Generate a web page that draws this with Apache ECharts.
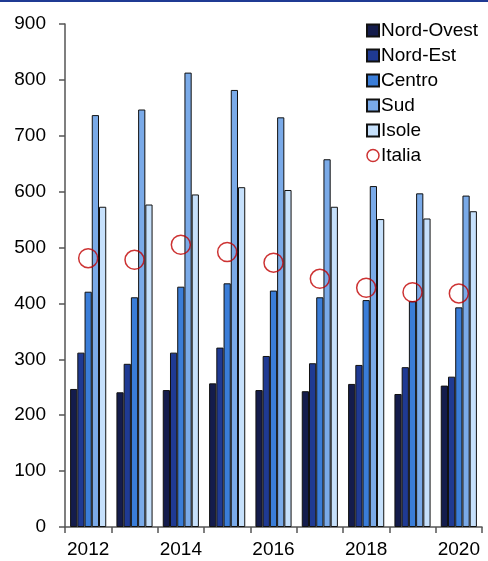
<!DOCTYPE html>
<html style="height: 100%">
<head>
<meta charset="utf-8">
<script src="https://cdn.jsdelivr.net/npm/echarts@6/dist/echarts.min.js"></script>
</head>
<body style="height: 100%; margin: 0;">
<div id="container" style="width: 488px; height: 561px;"></div>
<script type="text/javascript">
// dati
var anni = ['2012', '2013', '2014', '2015', '2016', '2017', '2018', '2019', '2020'];
var nordOvest = [247, 241, 245, 257, 245, 243, 256, 238, 253];
var nordEst   = [312, 292, 312, 321, 306, 293, 290, 286, 269];
var centro    = [421, 411, 430, 436, 423, 411, 406, 404, 393];
var sud       = [737, 747, 813, 782, 733, 658, 610, 597, 593];
var isole     = [573, 577, 595, 608, 603, 573, 551, 552, 565];
var italia    = [481, 478, 505, 492, 473, 444, 428, 420, 418];

var colori = ['#141c4c', '#1f3a93', '#3a7dd8', '#7aaae8', '#c6e0fb'];
var font = 'Liberation Sans';

function barra(nome, dati, col) {
    return {
        name: nome,
        type: 'bar',
        data: dati,
        barGap: '0%',
        barCategoryGap: '22%',
        itemStyle: { color: col, borderColor: '#111', borderWidth: 1 }
    };
}

var chart = echarts.init(document.getElementById('container'));
var option = {
    animation: false,
    textStyle: { fontFamily: font },
    graphic: [{
        type: 'rect',
        shape: { x: 0, y: 0, width: 488, height: 2 },
        style: { fill: '#1f3a93' }
    }],
    grid: { left: 65, right: 6, top: 24, bottom: 34 },
    legend: {
        orient: 'vertical',
        left: 361,
        top: 16,
        itemWidth: 12,
        itemHeight: 12,
        itemGap: 6,
        textStyle: { fontFamily: font, fontSize: 19, lineHeight: 19, color: '#000', padding: [0, 0, 0, -3] },
        data: [
            { name: 'Nord-Ovest', icon: 'rect' },
            { name: 'Nord-Est', icon: 'rect' },
            { name: 'Centro', icon: 'rect' },
            { name: 'Sud', icon: 'rect' },
            { name: 'Isole', icon: 'rect' },
            { name: 'Italia', icon: 'circle', itemStyle: { color: '#ffffff', borderColor: '#c00000', borderWidth: 1.5 } }
        ]
    },
    xAxis: {
        type: 'category',
        data: anni,
        boundaryGap: true,
        axisLine: { lineStyle: { color: '#555', width: 1.5 } },
        axisTick: { show: true, interval: 0, length: 6, lineStyle: { color: '#555', width: 1.5 } },
        axisLabel: { interval: 1, color: '#000', fontSize: 19, fontFamily: font, margin: 13 }
    },
    yAxis: {
        type: 'value',
        min: 0,
        max: 900,
        interval: 100,
        splitLine: { show: false },
        axisLine: { show: true, lineStyle: { color: '#555', width: 1.5 } },
        axisTick: { show: true, inside: false, length: 6, lineStyle: { color: '#555', width: 1.5 } },
        axisLabel: { color: '#000', fontSize: 19, fontFamily: font, margin: 19 }
    },
    series: [
        barra('Nord-Ovest', nordOvest, colori[0]),
        barra('Nord-Est', nordEst, colori[1]),
        barra('Centro', centro, colori[2]),
        barra('Sud', sud, colori[3]),
        barra('Isole', isole, colori[4]),
        {
            name: 'Italia',
            type: 'scatter',
            data: italia,
            symbol: 'circle',
            symbolSize: 19,
            z: 5,
            itemStyle: { color: 'rgba(255,255,255,0)', borderColor: '#c00000', borderWidth: 1.5 }
        }
    ]
};
chart.setOption(option);
</script>
</body>
</html>
